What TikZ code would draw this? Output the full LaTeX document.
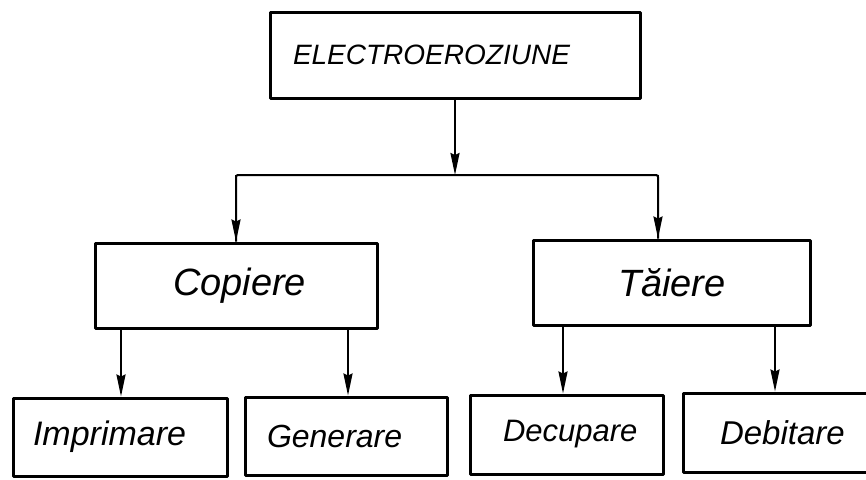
\documentclass[tikz,border=0pt]{standalone}
\usepackage{fontspec}
\setmainfont{Liberation Sans}
\usetikzlibrary{arrows.meta}
\begin{document}
\begin{tikzpicture}[x=1pt,y=-1pt,
  box/.style={draw, line width=3pt, align=left, inner ysep=0pt,
    font=\itshape, line join=round},
  link/.style={line width=2pt},
  arr/.style={link, -{Stealth[length=22pt,width=9pt,inset=2pt]}}]
  \clip (0,0) rectangle (866,479);
  \fill[white] (0,0) rectangle (866,479);

  % top level
  \node[box, minimum height=86pt, inner xsep=23pt, text width=324pt,
    font=\itshape\fontsize{28}{30}\selectfont] (root) at (455,55) {ELECTROEROZIUNE};

  % second level
  \node[box, minimum height=85pt, inner xsep=78pt, text width=126pt,
    font=\itshape\fontsize{38}{40}\selectfont] (cop) at (236,285.5) {Copiere};
  \node[box, minimum height=85pt, inner xsep=85pt, text width=107pt,
    font=\itshape\fontsize{38}{40}\selectfont] (tai) at (671.5,282.5) {Tăiere};

  % third level
  \node[box, minimum height=78pt, inner xsep=20pt, text width=174pt,
    font=\itshape\fontsize{34}{36}\selectfont] (imp) at (120,437) {Imprimare};
  \node[box, minimum height=78pt, inner xsep=22pt, text width=158pt,
    font=\itshape\fontsize{32}{34}\selectfont] (gen) at (346,436) {Generare};
  \node[box, minimum height=79pt, inner xsep=33pt, text width=127pt,
    font=\itshape\fontsize{31}{33}\selectfont] (dec) at (566.5,434.5) {Decupare};
  \node[box, minimum height=79pt, inner xsep=37pt, text width=143pt,
    font=\itshape\fontsize{33}{35}\selectfont] (deb) at (791.5,432.5) {Debitare};

  % branching bus under the top box
  \coordinate (jc) at (455,175);
  \coordinate (jl) at (236,175);
  \coordinate (jr) at (658,175);
  \draw[arr] (root.south) -- (jc);
  \draw[link, rounded corners=2pt] (jl |- cop.north) -- (jl) -- (jr) -- (jr |- tai.north);
  \draw[arr] (jl) -- (jl |- cop.north);
  \draw[arr] (jr) -- (jr |- tai.north);

  % drops to the third level
  \coordinate (x1) at (121,0);
  \coordinate (x2) at (348,0);
  \coordinate (x3) at (563,0);
  \coordinate (x4) at (775,0);
  \draw[arr] (x1 |- cop.south) -- (x1 |- imp.north);
  \draw[arr] (x2 |- cop.south) -- (x2 |- gen.north);
  \draw[arr] (x3 |- tai.south) -- (x3 |- dec.north);
  \draw[arr] (x4 |- tai.south) -- (x4 |- deb.north);
\end{tikzpicture}
\end{document}
